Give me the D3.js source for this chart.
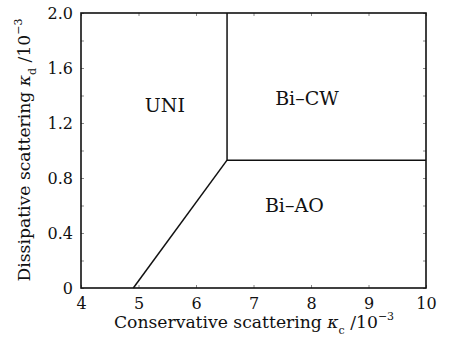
<!DOCTYPE html>
<html>
<head>
<meta charset="utf-8">
<script src="https://cdn.jsdelivr.net/npm/d3@7"></script>
<style>
  body { margin: 0; background: #fff; }
</style>
</head>
<body>
<div id="chart"></div>
<script>
// phase boundaries (kappa_c, kappa_d), in units of 1e-3
var boundaryAO = [[4.91, 0], [6.54, 0.93]];
var boundaryCW = [[6.54, 2.0], [6.54, 0.93], [10, 0.93]];
var regionNames = ['UNI', 'Bi\u2013CW', 'Bi\u2013AO'];
var regionPos = [[5.46, 1.28], [7.93, 1.33], [7.71, 0.553]];
var xTicks = [4, 5, 6, 7, 8, 9, 10];
var yTicks = [0, 0.4, 0.8, 1.2, 1.6, 2.0];
var yMinor = [0.2, 0.6, 1.0, 1.4, 1.8];

var SERIF = "'DejaVu Serif', serif";
var W = 450, H = 337;
var m = {left: 81, right: 24, top: 13, bottom: 49};

var svg = d3.select('#chart').append('svg')
  .attr('width', W)
  .attr('height', H)
  .style('font-family', SERIF);

var x = d3.scaleLinear().domain([4, 10]).range([m.left, W - m.right]);
var y = d3.scaleLinear().domain([0, 2]).range([H - m.bottom, m.top]);

// inward ticks on all four sides
function tickFmt(d) { return d === 0 ? '0' : d3.format('.1f')(d); }

svg.append('g')
  .attr('transform', 'translate(0,' + y(0) + ')')
  .call(d3.axisBottom(x).tickValues(xTicks).tickSize(-3).tickPadding(9).tickFormat(d3.format('d')))
  .call(function(g) {
    g.selectAll('text').attr('dy', '0.73em');
  });

svg.append('g')
  .attr('transform', 'translate(' + x(4) + ',0)')
  .call(d3.axisLeft(y).tickValues(yTicks).tickSize(-3).tickPadding(8).tickFormat(tickFmt));

svg.append('g')
  .attr('transform', 'translate(' + x(4) + ',0)')
  .call(d3.axisLeft(y).tickValues(yMinor).tickSize(-3).tickFormat(''));

svg.append('g')
  .attr('transform', 'translate(0,' + y(2) + ')')
  .call(d3.axisTop(x).tickValues(xTicks).tickSize(-3).tickFormat(''));

svg.append('g')
  .attr('transform', 'translate(' + x(10) + ',0)')
  .call(d3.axisRight(y).tickValues(yTicks.concat(yMinor)).tickSize(-3).tickFormat(''));

svg.selectAll('.domain').remove();
svg.selectAll('g')
  .attr('font-family', null)
  .attr('font-size', 16);
svg.selectAll('.tick line').attr('stroke', '#888');
svg.selectAll('.tick text').attr('fill', '#111');

// frame
svg.append('rect')
  .attr('x', x(4)).attr('y', y(2))
  .attr('width', x(10) - x(4)).attr('height', y(0) - y(2))
  .attr('fill', 'none').attr('stroke', '#111').attr('stroke-width', 1.6);

var line = d3.line().x(function(d) { return x(d[0]); }).y(function(d) { return y(d[1]); });

[boundaryAO, boundaryCW].forEach(function(b) {
  svg.append('path')
    .attr('d', line(b))
    .attr('fill', 'none')
    .attr('stroke', '#111')
    .attr('stroke-width', 1.5);
});

svg.selectAll('.region')
  .data(regionNames)
  .enter()
  .append('text')
  .attr('class', 'region')
  .attr('x', function(d, i) { return x(regionPos[i][0]); })
  .attr('y', function(d, i) { return y(regionPos[i][1]); })
  .attr('text-anchor', 'middle')
  .attr('font-size', 19)
  .attr('fill', '#111')
  .text(function(d) { return d; });

// axis titles
var xt = svg.append('text')
  .attr('x', 254).attr('y', 328)
  .attr('text-anchor', 'middle')
  .attr('font-size', 17.2)
  .attr('fill', '#111');
xt.append('tspan').text('Conservative scattering ');
xt.append('tspan').attr('font-style', 'italic').text('\u03ba');
xt.append('tspan').attr('font-size', 11).attr('dy', 6).text('c');
xt.append('tspan').attr('dy', -6).text(' /10');
xt.append('tspan').attr('font-size', 11).attr('dy', -8).text('\u22123');

var yt = svg.append('text')
  .attr('transform', 'translate(30,150) rotate(-90)')
  .attr('text-anchor', 'middle')
  .attr('font-size', 17.2)
  .attr('fill', '#111');
yt.append('tspan').text('Dissipative scattering ');
yt.append('tspan').attr('font-style', 'italic').text('\u03ba');
yt.append('tspan').attr('font-size', 11).attr('dy', 6).text('d');
yt.append('tspan').attr('dy', -6).text(' /10');
yt.append('tspan').attr('font-size', 11).attr('dy', -8).text('\u22123');
</script>
</body>
</html>
